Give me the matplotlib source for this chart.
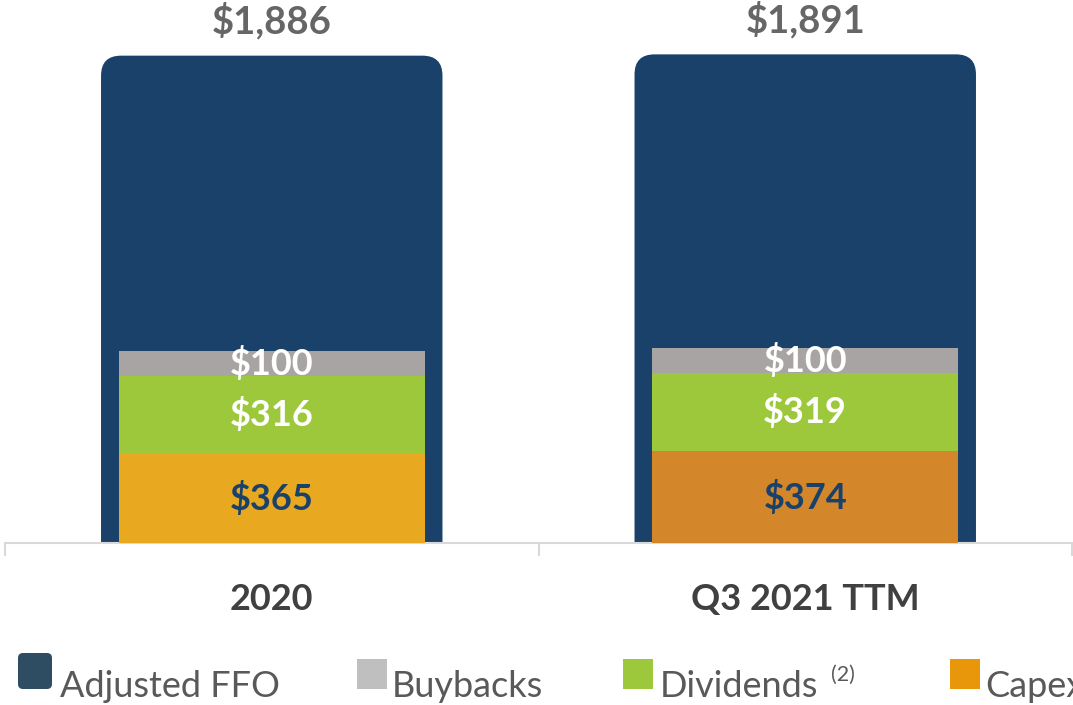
import matplotlib
matplotlib.use('Agg')
import matplotlib.pyplot as plt
from matplotlib.path import Path
from matplotlib.patches import PathPatch, FancyBboxPatch
from matplotlib.transforms import IdentityTransform
import numpy as np

# ---- data ----
categories = ['2020', 'Q3 2021 TTM']
adjusted_ffo = [1886, 1891]
capex = [365, 374]
dividends = [316, 319]
buybacks = [100, 100]
legend_labels = ['Adjusted FFO', 'Buybacks', 'Dividends', 'Capex']

plt.rcParams['font.family'] = ['Lato', 'DejaVu Sans']

W, H = 1073, 705
fig = plt.figure(figsize=(W / 100, H / 100), dpi=100)

FFO_COLOR = '#1A4169'
CAPEX_COLORS = ['#E8A820', '#D3862A']
DIV_COLOR = '#9DC83C'
BUY_COLOR = '#A8A4A3'

ax_left, ax_right, ax_bottom_px = 5, 1072, 543
ax = fig.add_axes([ax_left / W, 1 - ax_bottom_px / H, (ax_right - ax_left) / W, ax_bottom_px / H])
ymax_main = ax_bottom_px / 0.2584
ymax_stack = ax_bottom_px / 0.2457
ax.set_xlim(-0.5, 1.5)
ax.set_ylim(0, ymax_main)

x = np.arange(len(categories))

# big rounded bars
big_w = 0.64
bars = ax.bar(x, adjusted_ffo, width=big_w, color=FFO_COLOR, zorder=1)
px_per_x = (ax_right - ax_left) / 2.0
px_per_y = ax_bottom_px / ymax_main
r_px = 20
rx = r_px / px_per_x
ry = r_px / px_per_y
for b in bars:
    b.set_visible(False)
    x0, w, h = b.get_x(), b.get_width(), b.get_height()
    x1 = x0 + w
    verts = [(x0, 0), (x1, 0), (x1, h - ry), (x1, h), (x1 - rx, h),
             (x0 + rx, h), (x0, h), (x0, h - ry), (x0, 0)]
    codes = [Path.MOVETO, Path.LINETO, Path.LINETO, Path.CURVE3, Path.CURVE3,
             Path.LINETO, Path.CURVE3, Path.CURVE3, Path.CLOSEPOLY]
    ax.add_patch(PathPatch(Path(verts, codes), facecolor=FFO_COLOR, edgecolor='none', zorder=1))

for xi, v in zip(x, adjusted_ffo):
    ax.annotate(f'${v:,}', (xi, v), xytext=(0, 35 * 0.72), textcoords='offset points',
                ha='center', va='center', fontsize=27.5, fontweight='bold', color='#666666')

# axis styling
for s in ['top', 'right', 'left']:
    ax.spines[s].set_visible(False)
ax.spines['bottom'].set_color('#D9D9D9')
ax.spines['bottom'].set_linewidth(1.5)
ax.spines['bottom'].set_zorder(5)
ax.set_yticks([])
ax.set_xticks([-0.5, 0.5, 1.5])
ax.set_xticklabels([])
ax.tick_params(axis='x', which='major', length=9.5, width=1.5, color='#D9D9D9', direction='out')
ax.set_xticks(x, minor=True)
ax.set_xticklabels(categories, minor=True)
ax.tick_params(axis='x', which='minor', length=0, pad=29, labelsize=26, labelcolor='#404040')
for lbl in ax.get_xticklabels(minor=True):
    lbl.set_fontweight('bold')
ax.patch.set_visible(False)

# stacked bars on secondary scale
ax2 = ax.twinx()
ax2.set_ylim(0, ymax_stack)
ax2.set_xlim(-0.5, 1.5)
ax2.axis('off')
sw = 0.573
capex_a = np.array(capex)
div_a = np.array(dividends)
buy_a = np.array(buybacks)
ax2.bar(x, capex_a, width=sw, color=CAPEX_COLORS, zorder=2)
ax2.bar(x, div_a, width=sw, bottom=capex_a, color=DIV_COLOR, zorder=2)
ax2.bar(x, buy_a, width=sw, bottom=capex_a + div_a, color=BUY_COLOR, zorder=2)

for xi, c, d, bb in zip(x, capex_a, div_a, buy_a):
    ax2.text(xi, c / 2, f'${c}', ha='center', va='center', fontsize=26, fontweight='bold', color=FFO_COLOR)
    ax2.text(xi, c + d / 2, f'${d}', ha='center', va='center', fontsize=26, fontweight='bold', color='white')
    ax2.text(xi, c + d + bb / 2, f'${bb}', ha='center', va='center', fontsize=26, fontweight='bold', color='white')

# legend (manual, pixel positioned)
def px_box(x0, y0, x1, y1, color, rounding=0):
    style = f'round,pad=0,rounding_size={rounding}' if rounding else 'square,pad=0'
    p = FancyBboxPatch((x0, H - y1), x1 - x0, y1 - y0, boxstyle=style,
                       facecolor=color, edgecolor='none', transform=IdentityTransform())
    fig.add_artist(p)

legend_items = [
    (18, 653, 52, 689, '#2E4D63', 5, 60),
    (357, 659, 387, 689, '#BFBFBF', 0, 392),
    (623, 659, 653, 689, '#9DC83B', 0, 660),
    (950, 659, 980, 689, '#E8970A', 0, 985),
]
baseline = 697
for (x0, y0, x1, y1, col, rnd, tx), lab in zip(legend_items, legend_labels):
    px_box(x0, y0, x1, y1, col, rnd)
    fig.text(tx / W, 1 - baseline / H, lab, fontsize=26, color='#595959', va='baseline', ha='left')
fig.text(831 / W, 1 - 665 / H, '(2)', fontsize=15.5, color='#595959', va='top', ha='left')

fig.savefig('out.png', dpi=100)
